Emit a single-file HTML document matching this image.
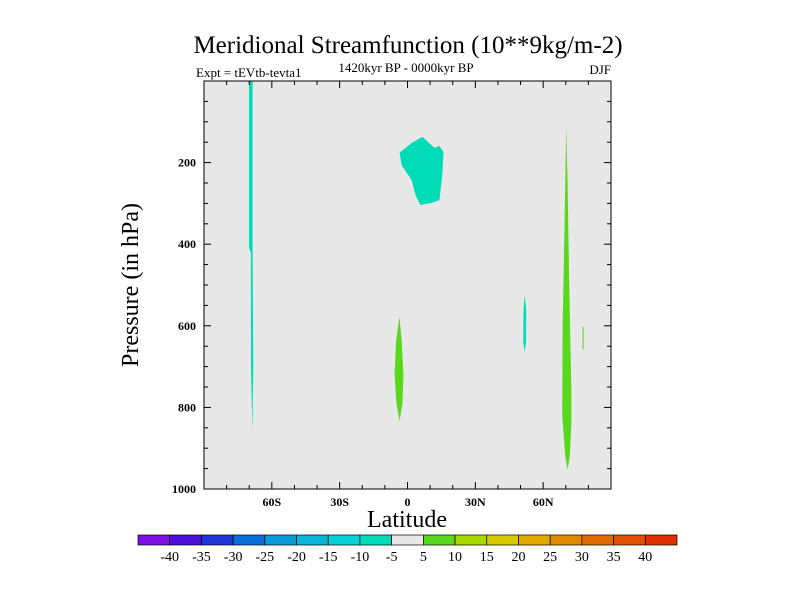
<!DOCTYPE html>
<html><head><meta charset="utf-8"><style>
html,body{margin:0;padding:0;background:#fff;width:800px;height:600px;overflow:hidden}
svg{font-family:"Liberation Serif",serif}
</style></head><body>
<svg width="800" height="600" id="chart">
<text x="408" y="53" text-anchor="middle" font-size="25">Meridional Streamfunction (10**9kg/m-2)</text>
<text x="196" y="77" font-size="13">Expt = tEVtb-tevta1</text>
<text x="406" y="72" text-anchor="middle" font-size="13">1420kyr BP - 0000kyr BP</text>
<text x="611" y="74" text-anchor="end" font-size="13">DJF</text>
<g id="plot"></g>
<text x="407" y="527" text-anchor="middle" font-size="24">Latitude</text>
<text transform="translate(138,285) rotate(-90)" text-anchor="middle" font-size="24">Pressure (in hPa)</text>
<g id="cbar"></g>
</svg>
<script>
const latTicks=[-60,-30,0,30,60];
const latLabels=["60S","30S","0","30N","60N"];
const presTicks=[200,400,600,800,1000];
const levels=[-40,-35,-30,-25,-20,-15,-10,-5,5,10,15,20,25,30,35,40];
const levelColors=["#7b10e0","#4a10d8","#1f36d8","#0a6ed8","#0a9ad8","#08b4d8","#08d0d8","#00dcb8","#e8e8e8","#5ad81e","#a8d800","#d8c800","#e0aa00","#e08a00","#e06c00","#e05000","#e03000"];
// contour regions: lat, pressure pairs
const blobLat=[-3.5,1.8,6.6,11.9,14.1,15.9,15.4,14.1,10.6,5.7,3.5,1.8,-2.6];
const blobPres=[176,152,137,164,159,174,230,292,299,304,279,243,206];
const leftLat=[-70.1,-68.5,-68.5,-68.2,-68.6,-69.2,-69.3,-70.1];
const leftPres=[0,0,440,700,860,700,420,410];
const eqLat=[-3.6,-2.5,-1.8,-2.2,-3.5,-4.9,-5.7,-5.1];
const eqPres=[578,640,720,790,833,790,720,640];
const n50Lat=[51.8,52.5,52.4,51.8,51.2,51.3];
const n50Pres=[525,560,640,665,640,560];
const r70Lat=[70.2,70.8,71.5,72.5,72.5,71.8,70.8,69.8,68.4,68.6,69.5,69.9];
const r70Pres=[110,250,500,760,840,920,953,920,820,600,350,200];
const n77Lat=[77.4,77.9,77.9,77.4];
const n77Pres=[603,603,657,657];
const NS="http://www.w3.org/2000/svg";
const X0=204,X1=611,Y0=81,Y1=489;
const xs=l=>X0+(l+90)/180*(X1-X0);
const ys=p=>Y0+p/1000*(Y1-Y0);
const plot=document.getElementById('plot');
function mk(t,a,parent){const e=document.createElementNS(NS,t);for(const k in a)e.setAttribute(k,a[k]);(parent||plot).appendChild(e);return e;}
let bg=mk('rect',{x:X0,y:Y0,width:X1-X0,height:Y1-Y0,fill:'#e8e8e8'});


function region(lats,pres,color,name){
 const pts=lats.map((l,i)=>xs(l).toFixed(1)+','+ys(pres[i]).toFixed(1)).join(' ');
 const p=mk('polygon',{points:pts,fill:color});
 
 
}
region(leftLat,leftPres,"#00dcb8","region-neg-70s");
region(blobLat,blobPres,"#00dcb8","region-neg-upper-equator");
region(eqLat,eqPres,"#5ad81e","region-pos-equator");
region(n50Lat,n50Pres,"#00dcb8","region-neg-50n");
region(r70Lat,r70Pres,"#5ad81e","region-pos-70n");
region(n77Lat,n77Pres,"#5ad81e","region-pos-77n");
let fr=mk('rect',{x:X0,y:Y0,width:X1-X0,height:Y1-Y0,fill:'none',stroke:'#000','stroke-width':1});


for(let l=-80;l<=80;l+=10){const x=xs(l);const major=latTicks.includes(l);const L=major?7:4;
 mk('line',{x1:x,x2:x,y1:Y1,y2:Y1-L,stroke:'#000'});mk('line',{x1:x,x2:x,y1:Y0,y2:Y0+L,stroke:'#000'});}
latTicks.forEach((l,i)=>{const t=mk('text',{x:xs(l),y:Y1+17,'text-anchor':'middle','font-size':12,'font-weight':'bold'});t.textContent=latLabels[i];
 
 });
for(let p=50;p<1000;p+=50){const y=ys(p);const major=presTicks.includes(p);const L=major?7:4;
 mk('line',{x1:X0,x2:X0+L,y1:y,y2:y,stroke:'#000'});mk('line',{x1:X1,x2:X1-L,y1:y,y2:y,stroke:'#000'});}
presTicks.forEach(p=>{const t=mk('text',{x:X0-8,y:ys(p)+4,'text-anchor':'end','font-size':12,'font-weight':'bold'});t.textContent=p;
 
 });
const cb=document.getElementById('cbar');
const CX0=138,CX1=677,CY=535,CH=10,bw=(CX1-CX0)/levelColors.length;
levelColors.forEach((c,i)=>{const r=mk('rect',{x:CX0+i*bw,y:CY,width:bw,height:CH,fill:c,stroke:'#000','stroke-width':0.7},cb);
 
 });
levels.forEach((v,i)=>{const t=mk('text',{x:CX0+(i+1)*bw,y:CY+26,'text-anchor':'middle','font-size':14},cb);t.textContent=v;
 
 });
</script>
</body></html>
